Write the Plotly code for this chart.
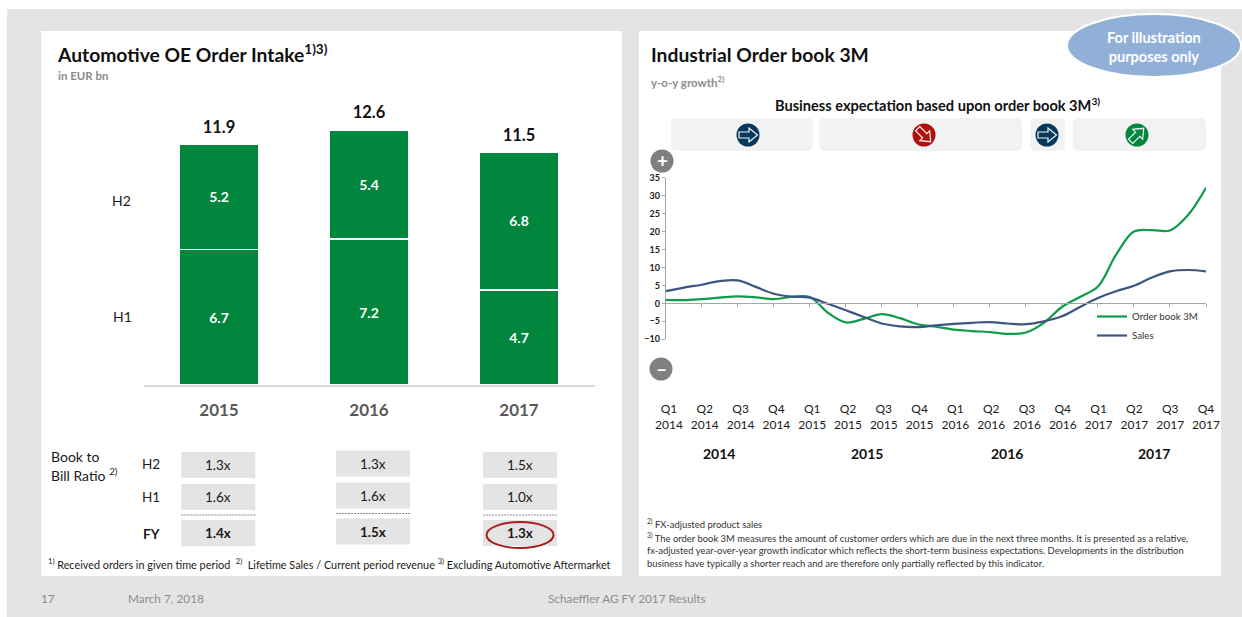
import math
import plotly.graph_objects as go

W, H = 1242, 617
FONT = "Lato"

# Order intake, EUR bn
years = ["2015", "2016", "2017"]
h1_values = [6.7, 7.2, 4.7]
h2_values = [5.2, 5.4, 6.8]
fy_totals = [11.9, 12.6, 11.5]

# Book to bill ratio per year
ratio_h2 = ["1.3x", "1.3x", "1.5x"]
ratio_h1 = ["1.6x", "1.6x", "1.0x"]
ratio_fy = ["1.4x", "1.5x", "1.3x"]

# Year-on-year growth, read every half quarter from Q1 2014
quarter_labels = [f"Q{q}<br>{y}" for y in (2014, 2015, 2016, 2017) for q in (1, 2, 3, 4)]
half_quarters = [0, 0.5, 1, 1.5, 2, 2.5, 3, 3.5, 4, 4.5, 5, 5.5, 6, 6.5, 7, 7.5, 8, 8.5, 9, 9.5, 10, 10.5,
                 11, 11.5, 12, 12.5, 13, 13.5, 14, 14.5, 15]
order_book = [1.0, 0.9, 1.2, 1.6, 1.95, 1.7, 1.2, 1.8, 1.8, -2.6, -5.3, -4.3, -3, -4.1, -5.8, -6.5, -7.3, -7.7,
              -8, -8.5, -8.1, -5.4, -1, 1.8, 4.7, 13.5, 20, 20.4, 20.3, 24.6, 32.2]
sales = [3.4, 4.4, 5.2, 6.2, 6.4, 4.6, 2.7, 1.9, 1.6, -0.1, -1.9, -3.8, -5.6, -6.4, -6.6, -6.1, -5.7, -5.4,
         -5.2, -5.6, -5.8, -5, -3.6, -1, 1.5, 3.4, 4.9, 7.2, 8.9, 9.3, 8.9]

GREEN = "#00873D"
LINE_GREEN = "#0E9B4A"
NAVY = "#3D5580"
PAGE = "#E4E4E4"


def fx(x):
    return x / W


def fy(y):
    return 1 - y / H


def rect(x0, y0, x1, y1, fill, layer="below"):
    return dict(type="rect", xref="paper", yref="paper", x0=fx(x0), x1=fx(x1), y0=fy(y0), y1=fy(y1),
                fillcolor=fill, line_width=0, layer=layer)


def round_rect(x0, y0, x1, y1, fill, r=6):
    p = [(x0 + r, y0), (x1 - r, y0), (x1, y0 + r), (x1, y1 - r), (x1 - r, y1), (x0 + r, y1), (x0, y1 - r), (x0, y0 + r)]
    P = [f"{fx(a):.5f},{fy(b):.5f}" for a, b in p]
    path = (f"M{P[0]} L{P[1]} Q{fx(x1):.5f},{fy(y0):.5f} {P[2]} L{P[3]} Q{fx(x1):.5f},{fy(y1):.5f} {P[4]} "
            f"L{P[5]} Q{fx(x0):.5f},{fy(y1):.5f} {P[6]} L{P[7]} Q{fx(x0):.5f},{fy(y0):.5f} {P[0]} Z")
    return dict(type="path", xref="paper", yref="paper", path=path, fillcolor=fill, line_width=0, layer="below")


def circle(cx, cy, r, fill, line_color=None, line_width=0):
    return dict(type="circle", xref="paper", yref="paper", x0=fx(cx - r), x1=fx(cx + r), y0=fy(cy + r), y1=fy(cy - r),
                fillcolor=fill, line=dict(color=line_color or fill, width=line_width), layer="above")


def arrow_icon(cx, cy, fill, angle):
    # Outlined block arrow inside a filled disc, rotated clockwise by angle degrees
    pts = [(-9, -3), (1, -3), (1, -7), (9.5, 0), (1, 7), (1, 3), (-9, 3)]
    a = math.radians(angle)
    out = []
    for x, y in pts:
        xr = x * math.cos(a) - y * math.sin(a) + cx
        yr = x * math.sin(a) + y * math.cos(a) + cy
        out.append(f"{fx(xr):.5f},{fy(yr):.5f}")
    path = "M" + " L".join(out) + " Z"
    return [circle(cx, cy, 11.5, fill),
            dict(type="path", xref="paper", yref="paper", path=path, fillcolor=fill,
                 line=dict(color="#F2F2F2", width=1.2), layer="above")]


def text(x, y, s, size, color="#1A1A1A", bold=False, anchor="left"):
    # Annotations carry a little padding, so left-aligned text starts slightly further left
    body = f"<b>{s}</b>" if bold else s
    left = x - 2 if anchor == "left" else x
    return dict(xref="paper", yref="paper", x=fx(left), y=fy(y), text=body, showarrow=False,
                xanchor=anchor, yanchor="middle", font=dict(family=FONT, size=size, color=color), align=anchor)


shapes = [
    rect(7, 9, W, H, PAGE),
    rect(41, 31, 622, 576, "white"),
    rect(639, 31, 1221, 576, "white"),
    round_rect(671, 118, 813, 151, "#F2F2F2"),
    round_rect(819, 118, 1022, 151, "#F2F2F2"),
    round_rect(1030, 118, 1065, 151, "#F2F2F2"),
    round_rect(1073, 118, 1206, 151, "#F2F2F2"),
]
shapes += arrow_icon(748, 135, "#05385C", 0)
shapes += arrow_icon(924, 135, "#B00F0A", 45)
shapes += arrow_icon(1047, 135, "#05385C", 0)
shapes += arrow_icon(1137, 135, GREEN, -45)
shapes += [
    circle(662, 161, 11.5, "#808080"),
    circle(661, 369, 11.5, "#808080"),
    dict(type="circle", xref="paper", yref="paper", x0=fx(1067), x1=fx(1241), y0=fy(77), y1=fy(14),
         fillcolor="#91B0D8", line=dict(color="white", width=2), layer="above"),
]

annotations = [
    text(57, 54, "Automotive OE Order Intake<sup>1)3)</sup>", 19.3, "#111111", True),
    text(58, 76, "in EUR bn", 11.5, "#8C8C8C", True),
    text(112, 200.5, "H2", 14),
    text(113, 316.5, "H1", 14),
    text(51, 457, "Book to", 14),
    text(51, 475, "Bill Ratio <sup>2)</sup>", 14),
    text(151, 464, "H2", 13.5, anchor="center"),
    text(151, 497, "H1", 13.5, anchor="center"),
    text(151, 534, "FY", 13.5, bold=True, anchor="center"),
    text(48, 564, "<sup>1)</sup> Received orders in given time period  <sup>2)</sup>  Lifetime Sales / Current period revenue "
                  "<sup>3)</sup> Excluding Automotive Aftermarket", 10.85),
    text(41, 598, "17", 11.8, "#8C8C8C"),
    text(128, 598, "March 7, 2018", 11.8, "#8C8C8C"),
    text(627, 598, "Schaeffler AG FY 2017 Results", 11.8, "#8C8C8C", anchor="center"),
    text(651, 54.5, "Industrial Order book 3M", 19.3, "#111111", True),
    text(651, 82, "y-o-y growth<sup>2)</sup>", 11.5, "#8C8C8C", True),
    text(937, 104, "Business expectation based upon order book 3M<sup>3)</sup>", 14.6, "#111111", True, "center"),
    text(662, 160, "+", 19, "white", True, "center"),
    text(661, 368, "–", 19, "white", True, "center"),
    text(1154, 47, "For illustration<br>purposes only", 14.5, "white", True, "center"),
    text(719, 453, "2014", 14, "#111111", True, "center"),
    text(867, 453, "2015", 14, "#111111", True, "center"),
    text(1007, 453, "2016", 14, "#111111", True, "center"),
    text(1154, 453, "2017", 14, "#111111", True, "center"),
    text(647, 523, "<sup>2)</sup> FX-adjusted product sales", 9.45, "#333333"),
    text(647, 537, "<sup>3)</sup> The order book 3M measures the amount of customer orders which are due in the next three "
                   "months. It is presented as a relative,", 9.45, "#333333"),
    text(647, 550, "fx-adjusted year-over-year growth indicator which reflects the short-term business expectations. "
                   "Developments in the distribution", 9.45, "#333333"),
    text(647, 563, "business have typically a shorter reach and are therefore only partially reflected by this indicator.",
         9.45, "#333333"),
]

# Ratio cells sit under the bars, on the same x scale
cell_half = 37 / 150
cell_centers = [-0.005, 1.027, 2.007]
rows = [(ratio_h2, 452, 478, False), (ratio_h1, 484, 510, False), (ratio_fy, 520, 546, True)]
for values, top, bottom, bold in rows:
    for col, value in enumerate(values):
        shift = 1.5 if col == 1 else 0
        c = cell_centers[col]
        shapes.append(dict(type="rect", xref="x", yref="paper", x0=c - cell_half, x1=c + cell_half,
                           y0=fy(bottom - shift), y1=fy(top - shift), fillcolor=PAGE, line_width=0, layer="below"))
        annotations.append(dict(xref="x", yref="paper", x=c, y=fy((top + bottom) / 2 - shift), text=f"<b>{value}</b>" if bold else value,
                                showarrow=False, xanchor="center", yanchor="middle",
                                font=dict(family=FONT, size=13.5, color="#1A1A1A")))
for col, c in enumerate(cell_centers):
    shift = 1.5 if col == 1 else 0
    shapes.append(dict(type="line", xref="x", yref="paper", x0=c - cell_half, x1=c + cell_half,
                       y0=fy(515 - shift), y1=fy(515 - shift), line=dict(color="#8C8C8C", width=1, dash="2px,1px"), layer="below"))
shapes.append(dict(type="circle", xref="x", yref="paper", x0=cell_centers[2] - 33.5 / 150, x1=cell_centers[2] + 33.5 / 150, y0=fy(548), y1=fy(522),
                   fillcolor="rgba(0,0,0,0)", line=dict(color="#A81C1C", width=2), layer="above"))

fig = go.Figure()

bar_line = dict(color="white", width=1.6)
fig.add_bar(x=[0, 1, 2], y=h1_values, name="H1", marker=dict(color=GREEN, line=bar_line),
            width=80 / 150, text=[f"<b>{v}</b>" for v in h1_values], textposition="inside", insidetextanchor="middle",
            textangle=0, textfont=dict(family=FONT, size=14, color="white"), xaxis="x", yaxis="y", showlegend=False)
fig.add_bar(x=[0, 1, 2], y=h2_values, name="H2", marker=dict(color=GREEN, line=bar_line),
            width=80 / 150, text=[f"<b>{v}</b>" for v in h2_values], textposition="inside", insidetextanchor="middle",
            textangle=0, textfont=dict(family=FONT, size=14, color="white"), xaxis="x", yaxis="y", showlegend=False)
# Invisible markers lift the totals clear of the bar tops
fig.add_scatter(x=[0, 1, 2], y=fy_totals, mode="markers+text", text=[f"<b>{v}</b>" for v in fy_totals], textposition="top center",
                marker=dict(size=10, opacity=0), textfont=dict(family=FONT, size=16.5, color="#111111"),
                xaxis="x", yaxis="y", showlegend=False, cliponaxis=False, hoverinfo="skip")

fig.add_scatter(x=half_quarters, y=order_book, mode="lines", name="Order book 3M", line=dict(color=LINE_GREEN, width=2.2, shape="spline", smoothing=1),
                xaxis="x2", yaxis="y2", cliponaxis=False)
fig.add_scatter(x=half_quarters, y=sales, mode="lines", name="Sales", line=dict(color=NAVY, width=2.2, shape="spline", smoothing=1),
                xaxis="x2", yaxis="y2", cliponaxis=False)
# Carries the quarter labels on their own axis below the plot
fig.add_scatter(x=[0], y=[0], mode="markers", marker=dict(opacity=0), xaxis="x3", yaxis="y2", showlegend=False, hoverinfo="skip")

PLOT_X0, PLOT_X1, Y_TOP, Y_BOTTOM = 665.7, 1206, 177.7, 339.3
ZERO_Y = Y_TOP + (Y_BOTTOM - Y_TOP) * 35 / 45

fig.update_layout(
    width=W, height=H, autosize=False, margin=dict(l=0, r=0, t=0, b=0, autoexpand=False),
    paper_bgcolor="white", plot_bgcolor="rgba(0,0,0,0)",
    barmode="stack", font=dict(family=FONT), shapes=shapes, annotations=annotations,
    legend=dict(x=fx(1092), y=fy(302), xanchor="left", yanchor="top", bgcolor="rgba(0,0,0,0)", traceorder="normal",
                font=dict(family=FONT, size=9.7, color="#333333"), itemwidth=30),
    xaxis=dict(domain=[fx(144), fx(595)], range=[-75 / 150, 2 + 76 / 150], anchor="y", tickvals=[0, 1, 2], ticktext=[f"<b>{y}</b>" for y in years],
               tickfont=dict(family=FONT, size=17, color="#595959"), ticks="outside", ticklen=9, tickcolor="rgba(0,0,0,0)",
               showline=True, linecolor="#D9D9D9", linewidth=1.5, showgrid=False, zeroline=False, fixedrange=True),
    yaxis=dict(domain=[fy(385), fy(100)], range=[0, 285 / 20.25], anchor="x", visible=False, fixedrange=True),
    xaxis2=dict(domain=[fx(PLOT_X0), fx(PLOT_X1)], range=[0, 15], anchor="free", position=fy(ZERO_Y), dtick=1, tick0=0,
                showticklabels=False, ticks="outside", ticklen=3, tickcolor="#A6A6A6", showline=True, linecolor="#A6A6A6",
                linewidth=1, showgrid=False, zeroline=False, fixedrange=True),
    xaxis3=dict(overlaying="x2", range=[-0.092, 15], anchor="free", position=fy(400), tickmode="array", tickvals=list(range(16)), ticktext=quarter_labels,
                tickfont=dict(family=FONT, size=12, color="#1A1A1A"), ticks="", showline=False, showgrid=False, zeroline=False, fixedrange=True),
    yaxis2=dict(domain=[fy(Y_BOTTOM), fy(Y_TOP)], range=[-10, 35], anchor="x2", dtick=5, tick0=-10, ticks="outside", ticklen=3,
                tickcolor="#A6A6A6", showline=True, linecolor="#A6A6A6", linewidth=1, showgrid=False, zeroline=False,
                tickfont=dict(family=FONT, size=9, color="#1A1A1A", weight="bold"), fixedrange=True),
)

fig.write_html("out.html")
